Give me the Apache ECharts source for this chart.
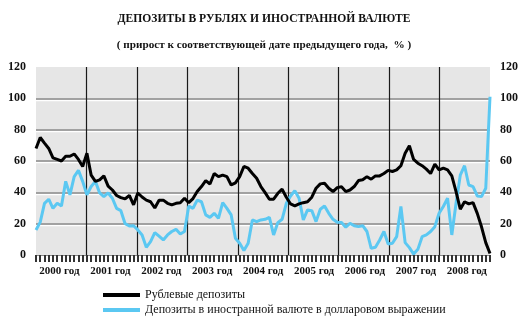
<!DOCTYPE html>
<html>
<head>
<meta charset="utf-8">
<script src="https://cdn.jsdelivr.net/npm/echarts@6/dist/echarts.min.js"></script>
<style>
html,body{margin:0;padding:0;background:#fff;}
#chart{width:528px;height:334px;}
</style>
</head>
<body>
<div id="chart"></div>
<script>
var years = ['2000 год','2001 год','2002 год','2003 год','2004 год','2005 год','2006 год','2007 год','2008 год'];
var yTicks = [0, 20, 40, 60, 80, 100, 120];

var rubDeposits = [
  68, 75, 71.4, 68, 62, 61, 60, 63, 63, 64.5, 61, 56.5,
  65, 51, 47, 48, 50.5, 44, 41.5, 38, 36.6, 35.8, 38, 32,
  39.6, 37, 35, 34, 30, 35, 35, 33, 32, 33, 33.4, 36.2,
  33.4, 36, 40.5, 43.7, 47.5, 45.3, 52, 50, 51, 50, 44.7, 46,
  50, 56.5, 55.4, 52, 49, 43.7, 39.8, 35.6, 35.6, 39.4, 42, 36.9,
  32.6, 31.3, 32.6, 33.4, 34, 36.9, 42.6, 45.4, 45.8, 42.6, 40.5, 43,
  43.5, 40.5, 41.5, 43.7, 47.5, 48, 50, 48.4, 50.5, 50.5, 52, 54,
  53.3, 54.3, 57, 65, 69.7, 61, 58.6, 57, 54.8, 52, 58, 54.3,
  55.4, 54.3, 50.5, 40.5, 29.2, 34, 32.6, 33.4, 26.6, 18, 7.9, 1
];

var fxDeposits = [
  16, 21, 33, 35.6, 29.8, 33, 31.3, 47, 38.4, 50, 54, 47,
  38.4, 43.7, 47, 39.6, 37.3, 39.6, 36.2, 29.8, 28.3, 20, 18.5, 18.7,
  16, 12.8, 4.9, 8.5, 14.3, 12, 9.6, 12.8, 15, 16.4, 13.4, 15,
  31.3, 29.8, 35, 34, 25.6, 24, 26.6, 23.4, 33.4, 29.8, 25.6, 10.7,
  7.5, 2.8, 7.5, 22.4, 21.3, 22.4, 22.8, 24, 12.8, 20.7, 22.8, 33,
  37.7, 41, 36.2, 22.4, 28.8, 28.3, 21.3, 29.2, 31.3, 26.6, 22.8, 20.9,
  20.7, 17.7, 20.2, 18.7, 18.1, 18.7, 15, 4.3, 4.9, 9.6, 15, 7,
  7.5, 11.7, 31, 7.9, 4.7, 0.6, 3.6, 11.7, 12.8, 15, 18.1, 26.6,
  31, 36.2, 12.8, 33, 51, 57, 44.7, 43.7, 37.7, 37.3, 42.6, 101
];

var months = [];
for (var y = 0; y < years.length; y++) {
  for (var m = 1; m <= 12; m++) {
    months.push(years[y].slice(0, 4) + '-' + (m < 10 ? '0' + m : m));
  }
}

var serif = '"Liberation Serif", "DejaVu Serif", serif';
var chart = echarts.init(document.getElementById('chart'), null, {renderer: 'canvas'});

var yAxisBase = {
  type: 'value', min: yTicks[0], max: yTicks[yTicks.length - 1], interval: yTicks[1] - yTicks[0],
  axisLine: {show: false}, axisTick: {show: false},
  axisLabel: {fontFamily: serif, fontWeight: 'bold', fontSize: 12, color: '#111', margin: 10}
};

chart.setOption({
  animation: false,
  backgroundColor: '#fff',
  title: [
    {text: 'ДЕПОЗИТЫ В РУБЛЯХ И ИНОСТРАННОЙ ВАЛЮТЕ', left: 'center', top: 8,
     textStyle: {fontFamily: serif, fontWeight: 'bold', fontSize: 11.6, color: '#111'}},
    {text: '( прирост к соответствующей дате предыдущего года,  % )', left: 'center', top: 35,
     textStyle: {fontFamily: serif, fontWeight: 'bold', fontSize: 11.2, color: '#111'}}
  ],
  legend: {
    orient: 'vertical', left: 98, top: 284, itemWidth: 37, itemHeight: 4, itemGap: 3,
    icon: 'rect',
    data: ['Рублевые депозиты', 'Депозиты в иностранной валюте в долларовом выражении'],
    textStyle: {fontFamily: serif, fontSize: 12, color: '#111'}
  },
  grid: {left: 36, right: 38, top: 67, bottom: 79, show: true, backgroundColor: '#e6e6e6', borderWidth: 0},
  xAxis: [
    {type: 'category', data: months, boundaryGap: false, position: 'bottom',
     axisLine: {show: true, onZero: false, lineStyle: {color: '#888', width: 1}},
     axisTick: {show: true, interval: 0, length: 7, lineStyle: {color: '#333', width: 2}},
     axisLabel: {show: true, interval: function (i) { return i % 12 === 6; },
       formatter: function (v) { return v.slice(0, 4) + ' год'; },
       padding: [0, 4, 0, 0],
       fontFamily: serif, fontWeight: 'bold', fontSize: 11, color: '#111', margin: 11},
     splitLine: {show: false}},
    {type: 'category', data: years, boundaryGap: true, position: 'top',
     axisLine: {show: false}, axisTick: {show: false}, axisLabel: {show: false},
     splitLine: {show: true, interval: 0, showMinLine: false, showMaxLine: false,
                 lineStyle: {color: '#1a1a1a', width: 1.2}}}
  ],
  yAxis: [
    Object.assign({}, yAxisBase, {position: 'left',
      splitLine: {show: true, showMinLine: false, showMaxLine: false,
        lineStyle: {color: '#8a8a8a', width: 1.5, shadowColor: '#ffffff', shadowOffsetY: 1.5}}}),
    Object.assign({}, yAxisBase, {position: 'right', splitLine: {show: false}})
  ],
  series: [
    {name: 'Рублевые депозиты', type: 'line', xAxisIndex: 0, yAxisIndex: 0, data: rubDeposits,
     symbol: 'none', z: 4, lineStyle: {color: '#000', width: 3}, itemStyle: {color: '#000'}},
    {name: 'Депозиты в иностранной валюте в долларовом выражении', type: 'line', xAxisIndex: 0, yAxisIndex: 0,
     data: fxDeposits, symbol: 'none', z: 3, lineStyle: {color: '#5bc8f2', width: 3}, itemStyle: {color: '#5bc8f2'}}
  ]
});
</script>
</body>
</html>
